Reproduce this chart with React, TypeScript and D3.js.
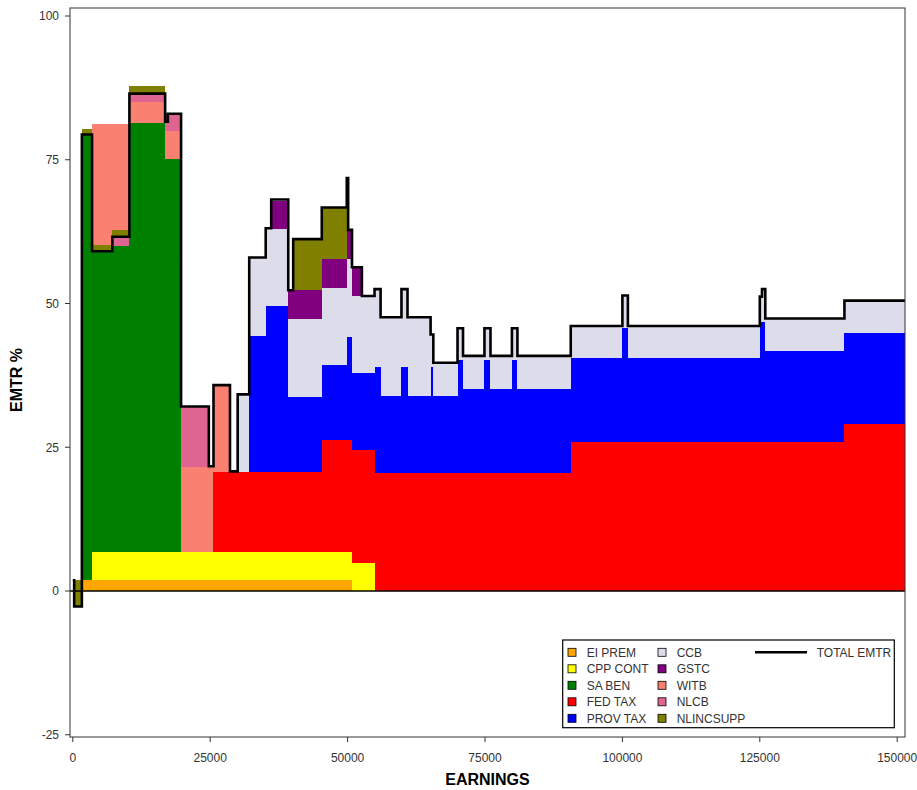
import React from 'react';
import * as d3 from 'd3';

// earnings breakpoints; every series holds one value per step (between two breakpoints)
const EARN = [0, 250, 1650, 3500, 7200, 10300, 16800, 17300, 19700, 24750, 25600, 28600, 30000, 32100, 35100, 36100,
  39200, 40100, 45300, 49850, 50100, 50800, 52600, 54900, 56000, 59800, 60900, 65100, 65600, 70000, 71000, 74900,
  76000, 79900, 80900, 90600, 100000, 101000, 125000, 125400, 126000, 140400, 151500];

const EI_PREM = [1.88, 1.88, 1.88, 1.88, 1.88, 1.88, 1.88, 1.88, 1.88, 1.88, 1.88, 1.88, 1.88, 1.88, 1.88, 1.88,
  1.88, 1.88, 1.88, 1.88, 1.88, 0, 0, 0, 0, 0, 0, 0, 0, 0, 0, 0, 0, 0, 0, 0, 0, 0, 0, 0, 0, 0];
const CPP_CONT = [0, 0, 0, 4.95, 4.95, 4.95, 4.95, 4.95, 4.95, 4.95, 4.95, 4.95, 4.95, 4.95, 4.95, 4.95,
  4.95, 4.95, 4.95, 4.95, 4.95, 4.95, 4.95, 0, 0, 0, 0, 0, 0, 0, 0, 0, 0, 0, 0, 0, 0, 0, 0, 0, 0, 0];
const SA_BEN = [0, 0, 77.6, 74.4, 74.4, 74.5, 68.3, 68.3, 0, 0, 0, 0, 0, 0, 0, 0,
  0, 0, 0, 0, 0, 0, 0, 0, 0, 0, 0, 0, 0, 0, 0, 0, 0, 0, 0, 0, 0, 0, 0, 0, 0, 0];
const FED_TAX = [0, 0, 0, 0, 0, 0, 0, 0, 0, 0, 13.95, 13.95, 13.95, 13.95, 13.95, 13.95,
  13.95, 13.95, 19.4, 19.4, 19.4, 19.65, 19.65, 20.5, 20.5, 20.5, 20.5, 20.5, 20.5, 20.5, 20.5, 20.5,
  20.5, 20.5, 20.5, 26.0, 26.0, 26.0, 26.0, 26.0, 26.0, 29.0];
const PROV_TAX = [0, 0, 0, 0, 0, 0, 0, 0, 0, 0, 0, 0, 0, 23.6, 28.8, 28.8,
  12.9, 12.9, 13.0, 17.9, 17.9, 13.4, 13.3, 18.4, 13.4, 18.4, 13.4, 18.4, 13.4, 19.7, 14.6, 19.7,
  14.6, 19.7, 14.6, 14.5, 19.7, 14.5, 20.8, 20.8, 15.8, 15.9];
const CCB = [0, 0, 0, 0, 0, 0, 0, 0, 0, 0, 0, 0, 13.3, 13.6, 13.5, 13.4,
  13.7, 13.7, 13.4, 13.6, 13.6, 13.3, 13.4, 13.6, 13.7, 13.6, 13.7, 5.7, 5.8, 5.5, 5.8, 5.5,
  5.8, 5.5, 5.8, 5.6, 5.7, 5.6, 4.4, 5.7, 5.6, 5.6];
const GSTC = [0, 0, 0, 0, 0, 0, 0, 0, 0, 0, 0, 0, 0, 0, 0, 4.9,
  4.9, 4.9, 5.1, 5.1, 5.1, 5.0, 0, 0, 0, 0, 0, 0, 0, 0, 0, 0, 0, 0, 0, 0, 0, 0, 0, 0, 0, 0];
const WITB = [0, 0, 0, -21.9, -21.2, 3.8, 4.8, 4.8, 14.8, 14.8, 15.0, 0, 0, 0, 0, 0,
  0, 0, 0, 0, 0, 0, 0, 0, 0, 0, 0, 0, 0, 0, 0, 0, 0, 0, 0, 0, 0, 0, 0, 0, 0, 0];
const NLCB = [0, 0, 0, 0, 1.7, 1.1, 2.9, 2.9, 10.4, 0, 0, 0, 0, 0, 0, 0,
  0, 0, 0, 0, 0, 0, 0, 0, 0, 0, 0, 0, 0, 0, 0, 0, 0, 0, 0, 0, 0, 0, 0, 0, 0, 0];
const NLINCSUPP = [0, -4.6, 0.8, 0.9, 1.0, 1.6, 0, 0, 0, 0, 0, 0, 0, 0, 0, 0,
  0, 8.7, 8.8, 0, 0, 0, 0, 0, 0, 0, 0, 0, 0, 0, 0, 0, 0, 0, 0, 0, 0, 0, 0, 0, 0, 0];
const TOTAL_EMTR = [1.88, -2.7, 79.4, 59.1, 61.6, 86.5, 81.6, 83.0, 32.1, 21.7, 35.8, 20.8, 34.2, 58.0, 63.1, 68.1,
  52.3, 61.2, 66.7, 71.8, 62.8, 56.3, 51.3, 52.5, 47.6, 52.5, 47.6, 44.6, 39.7, 45.7, 40.9, 45.7,
  40.9, 45.7, 40.9, 46.1, 51.4, 46.1, 51.2, 52.5, 47.4, 50.5];

const SERIES_NAMES = ['EI PREM', 'CPP CONT', 'SA BEN', 'FED TAX', 'PROV TAX', 'CCB', 'GSTC', 'WITB', 'NLCB', 'NLINCSUPP'];
const SERIES_COLORS = ['#FFA500', '#FFFF00', '#008000', '#FF0000', '#0000FF', '#DCDCEB', '#800080', '#FA8072', '#DE6491', '#808000'];
const SERIES_VALUES = [EI_PREM, CPP_CONT, SA_BEN, FED_TAX, PROV_TAX, CCB, GSTC, WITB, NLCB, NLINCSUPP];

const X_TICKS = [0, 25000, 50000, 75000, 100000, 125000, 150000];
const Y_TICKS = [-25, 0, 25, 50, 75, 100];

const W = 917;
const H = 790;
const PLOT = { left: 70, right: 905, top: 8, bottom: 737 };
const FONT = '"Liberation Sans", Arial, sans-serif';

const x = d3.scaleLinear().domain([0, 150000]).range([72.8, 897.2]);
const y = d3.scaleLinear().domain([0, 100]).range([591, 16]);

type Pt = { e: number; lo: number; hi: number };

// stack every component on the running total (negative parts go downward)
const buildBands = () => {
  const cum = EARN.slice(0, -1).map(() => 0);
  return SERIES_VALUES.map(vals => {
    const pts: Pt[] = vals.map((v, i) => {
      const lo = cum[i];
      cum[i] = lo + v;
      return { e: EARN[i], lo, hi: cum[i] };
    });
    const last = pts[pts.length - 1];
    pts.push({ e: EARN[EARN.length - 1], lo: last.lo, hi: last.hi });
    return pts;
  });
};

const App: React.FC = () => {
  const bands = buildBands();

  const area = d3.area<Pt>()
    .x(d => x(d.e))
    .y0(d => y(d.lo))
    .y1(d => y(d.hi))
    .curve(d3.curveStepAfter);

  const totalPts = TOTAL_EMTR.map((v, i) => ({ e: EARN[i], v }));
  totalPts.push({ e: EARN[EARN.length - 1], v: TOTAL_EMTR[TOTAL_EMTR.length - 1] });
  const line = d3.line<{ e: number; v: number }>()
    .x(d => x(d.e))
    .y(d => y(d.v))
    .curve(d3.curveStepAfter);

  // legend
  const LEG = { x: 562.7, y: 640, w: 331.6, h: 87.7 };
  const rowY = (i: number) => 652.3 + i * 16.5;

  return (
    <svg width={W} height={H} style={{ position: 'absolute', left: 0, top: 0, background: '#fff' }}
      fontFamily={FONT}>
      <defs>
        <clipPath id="plotClip">
          <rect x={PLOT.left} y={PLOT.top} width={PLOT.right - PLOT.left} height={PLOT.bottom - PLOT.top} />
        </clipPath>
      </defs>

      <g clipPath="url(#plotClip)">
        {bands.map((pts, k) => (
          <path key={SERIES_NAMES[k]} d={area(pts) || ''} fill={SERIES_COLORS[k]} shapeRendering="crispEdges" />
        ))}
        <line x1={PLOT.left} x2={PLOT.right} y1={y(0)} y2={y(0)} stroke="#000" strokeWidth={1.5} />
        <path d={line(totalPts) || ''} fill="none" stroke="#000" strokeWidth={2.6} strokeLinejoin="miter" />
      </g>

      {/* frame */}
      <rect x={PLOT.left} y={PLOT.top} width={PLOT.right - PLOT.left} height={PLOT.bottom - PLOT.top}
        fill="none" stroke="#333" strokeWidth={1} />

      {/* y axis */}
      {Y_TICKS.map(t => (
        <g key={t}>
          <line x1={PLOT.left - 5} x2={PLOT.left} y1={y(t)} y2={y(t)} stroke="#333" />
          <text x={PLOT.left - 11} y={y(t) + 4.3} textAnchor="end" fontSize={12} fill="#333">{t}</text>
        </g>
      ))}
      <text transform={`translate(22,380) rotate(-90)`} textAnchor="middle" fontSize={16} fontWeight="bold" fill="#000">
        EMTR %
      </text>

      {/* x axis */}
      {X_TICKS.map(t => (
        <g key={t}>
          <line x1={x(t)} x2={x(t)} y1={PLOT.bottom} y2={PLOT.bottom + 5} stroke="#333" />
          <text x={x(t)} y={761.5} textAnchor="middle" fontSize={12} fill="#333">{t}</text>
        </g>
      ))}
      <text x={487.5} y={785} textAnchor="middle" fontSize={16} fontWeight="bold" fill="#000">EARNINGS</text>

      {/* legend */}
      <rect x={LEG.x} y={LEG.y} width={LEG.w} height={LEG.h} fill="#fff" stroke="#000" strokeWidth={1.2} />
      {SERIES_NAMES.map((name, k) => {
        const col = Math.floor(k / 5);
        const sx = col === 0 ? 568 : 658;
        const tx = col === 0 ? 586.7 : 676.7;
        const cy = rowY(k % 5);
        return (
          <g key={name}>
            <rect x={sx} y={cy - 4} width={8} height={8} fill={SERIES_COLORS[k]} stroke="#000" strokeWidth={0.8} />
            <text x={tx} y={cy + 4.3} fontSize={12} fill="#333">{name}</text>
          </g>
        );
      })}
      <line x1={755} x2={807} y1={rowY(0)} y2={rowY(0)} stroke="#000" strokeWidth={2.5} />
      <text x={816.7} y={rowY(0) + 4.3} fontSize={12} fill="#333">TOTAL EMTR</text>
    </svg>
  );
};

export default App;
